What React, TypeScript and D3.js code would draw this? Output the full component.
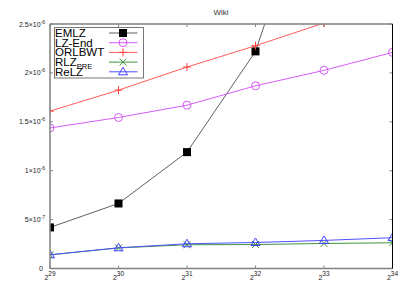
import React from "react";
import * as d3 from "d3";

const exps = [29, 30, 31, 32, 33, 34];
const emlz = [0.42e-6, 0.665e-6, 1.19e-6, 2.22e-6, 4.3e-6, 8.0e-6];
const lzend = [1.437e-6, 1.544e-6, 1.67e-6, 1.868e-6, 2.026e-6, 2.21e-6];
const orlbwt = [1.609e-6, 1.824e-6, 2.06e-6, 2.278e-6, 2.51e-6, 2.75e-6];
const rlzpre = [0.14e-6, 0.21e-6, 0.243e-6, 0.245e-6, 0.256e-6, 0.263e-6];
const relz = [0.14e-6, 0.212e-6, 0.253e-6, 0.266e-6, 0.287e-6, 0.315e-6];
const yTicks = [0, 5e-7, 1e-6, 1.5e-6, 2e-6, 2.5e-6];
const yTickMant = ["0", "5", "1", "1.5", "2", "2.5"];
const yTickExp = ["", "-7", "-6", "-6", "-6", "-6"];

const W = 407, H = 285;
const L = 50, R = 392.5, T = 24, B = 268.5;

export default function App() {
  const x = d3.scaleLinear().domain([29, 34]).range([L, R]);
  const y = d3.scaleLinear().domain([0, 2.5e-6]).range([B, T]);
  const line = d3.line<number>().x((_, i) => x(exps[i])).y((d) => y(d));
  const series = [
    { name: "EMLZ", data: emlz, color: "#000000", lineColor: "#606060", marker: "square" },
    { name: "LZ-End", data: lzend, color: "#d65cf5", lineColor: "#d65cf5", marker: "circle" },
    { name: "ORLBWT", data: orlbwt, color: "#ff4040", lineColor: "#ff5a5a", marker: "plus" },
    { name: "RLZ", sub: "PRE", data: rlzpre, color: "#3c963c", lineColor: "#3c963c", marker: "x" },
    { name: "ReLZ", data: relz, color: "#4040ff", lineColor: "#5050ff", marker: "triangle" },
  ];
  const mk = (m: string, cx: number, cy: number, c: string, key: string) => {
    if (m === "square") return <rect key={key} x={cx - 4} y={cy - 4} width={8} height={8} fill={c} />;
    if (m === "circle") return <circle key={key} cx={cx} cy={cy} r={4} fill="none" stroke={c} strokeWidth={1} />;
    if (m === "plus") return <path key={key} d={`M${cx - 4},${cy}H${cx + 4}M${cx},${cy - 4}V${cy + 4}`} stroke={c} strokeWidth={1} />;
    if (m === "x") return <path key={key} d={`M${cx - 3.5},${cy - 3.5}L${cx + 3.5},${cy + 3.5}M${cx - 3.5},${cy + 3.5}L${cx + 3.5},${cy - 3.5}`} stroke={c} strokeWidth={1} />;
    return <path key={key} d={`M${cx},${cy - 4.5}L${cx + 4.5},${cy + 3}L${cx - 4.5},${cy + 3}Z`} fill="none" stroke={c} strokeWidth={1} />;
  };
  const font = "Liberation Sans, Arial, sans-serif";
  return (
    <svg width={W} height={H} style={{ position: "absolute", left: 0, top: 0 }} fontFamily={font}>
      <rect width={W} height={H} fill="#fff" />
      <defs>
        <clipPath id="clip"><rect x={L} y={T} width={R - L} height={B - T} /></clipPath>
      </defs>
      <text x={221} y={15} fontSize={8} textAnchor="middle" fill="#333">Wiki</text>
      {yTicks.map((t, i) => (
        <g key={"yt" + i}>
          <line x1={L} x2={L + 3} y1={y(t)} y2={y(t)} stroke="#888" />
          <line x1={R - 3} x2={R} y1={y(t)} y2={y(t)} stroke="#888" />
          <text x={i === 0 ? 43 : 45} y={y(t) + 2.5} fontSize={7} textAnchor="end" fill="#222">
            {yTickMant[i]}
            {yTickExp[i] !== "" && <tspan>×10</tspan>}
            {yTickExp[i] !== "" && <tspan dy={-3} fontSize={5}>{yTickExp[i]}</tspan>}
          </text>
        </g>
      ))}
      {exps.map((e, i) => (
        <g key={"xt" + i}>
          <line x1={x(e)} x2={x(e)} y1={B} y2={B - 3} stroke="#888" />
          <line x1={x(e)} x2={x(e)} y1={T} y2={T + 3} stroke="#888" />
          <text x={x(e)} y={279.5} fontSize={7} textAnchor="middle" fill="#222">
            2<tspan dy={-3.5} fontSize={6.5}>{e}</tspan>
          </text>
        </g>
      ))}
      <g clipPath="url(#clip)">
        {series.map((s) => (
          <g key={s.name}>
            <path d={line(s.data) || ""} fill="none" stroke={s.lineColor} strokeWidth={1} />
            {s.data.map((v, i) => mk(s.marker, x(exps[i]), y(v), s.color, s.name + i))}
          </g>
        ))}
      </g>
      <line x1={L} x2={L} y1={T} y2={B} stroke="#808080" strokeWidth={1.5} />
      <line x1={L} x2={R} y1={T} y2={T} stroke="#808080" strokeWidth={1.5} />
      <line x1={L} x2={R} y1={B} y2={B} stroke="#808080" strokeWidth={1.5} />
      <line x1={R} x2={R} y1={T} y2={B} stroke="#000" strokeWidth={1} />
      <rect x={54.5} y={27.5} width={89} height={50.5} fill="#fff" stroke="#777" strokeWidth={1} />
      {series.map((s, i) => {
        const cy = 33 + i * 9.7;
        return (
          <g key={"lg" + i}>
            <text x={55} y={cy + 4} fontSize={11.5} fill="#000">
              {s.name}
              {s.sub && <tspan dy={2.5} fontSize={7.5}>{s.sub}</tspan>}
            </text>
            <line x1={109} x2={137.5} y1={cy} y2={cy} stroke={s.lineColor} strokeWidth={1} />
            {mk(s.marker, 123, cy, s.color, "lm" + i)}
          </g>
        );
      })}
    </svg>
  );
}
